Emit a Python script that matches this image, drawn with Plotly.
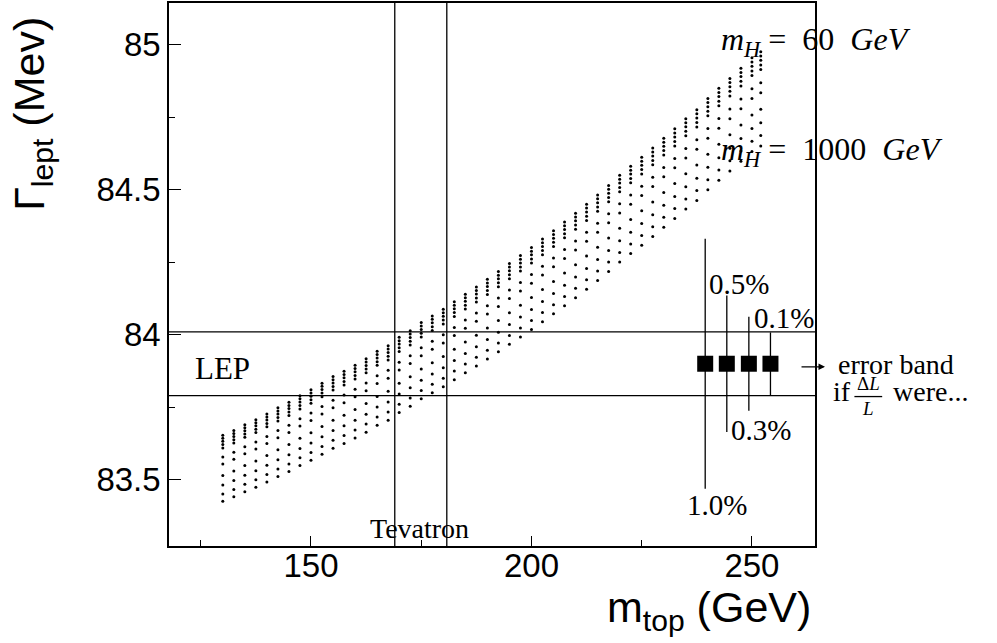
import plotly.graph_objects as go

# ---------------- data ----------------
m_top = [130, 132.5, 135, 137.5, 140, 142.5, 145, 147.5, 150, 152.5,
         155, 157.5, 160, 162.5, 165, 167.5, 170, 172.5, 175, 177.5,
         180, 182.5, 185, 187.5, 190, 192.5, 195, 197.5, 200, 202.5,
         205, 207.5, 210, 212.5, 215, 217.5, 220, 222.5, 225, 227.5,
         230, 232.5, 235, 237.5, 240, 242.5, 245, 247.5, 250, 252.0]

# upper edge of each column (m_H = 60 GeV end), MeV
gamma_top = [83.653, 83.670, 83.690, 83.707, 83.727, 83.748, 83.767, 83.790, 83.810, 83.833,
             83.856, 83.874, 83.895, 83.917, 83.943, 83.962, 83.991, 84.014, 84.042, 84.065,
             84.088, 84.114, 84.140, 84.165, 84.191, 84.218, 84.246, 84.273, 84.301, 84.330,
             84.359, 84.389, 84.419, 84.450, 84.482, 84.515, 84.550, 84.581, 84.612, 84.644,
             84.678, 84.710, 84.745, 84.776, 84.815, 84.850, 84.884, 84.919, 84.955, 84.976]

# lower edge of each column (m_H = 1000 GeV end), MeV
gamma_bottom = [83.426, 83.441, 83.459, 83.474, 83.492, 83.511, 83.528, 83.549, 83.567, 83.588,
                83.609, 83.625, 83.644, 83.664, 83.688, 83.705, 83.732, 83.753, 83.779, 83.800,
                83.821, 83.845, 83.869, 83.892, 83.916, 83.941, 83.967, 83.992, 84.018, 84.045,
                84.072, 84.100, 84.128, 84.157, 84.187, 84.218, 84.251, 84.280, 84.309, 84.339,
                84.371, 84.401, 84.434, 84.463, 84.500, 84.533, 84.565, 84.598, 84.632, 84.651]

# relative position of the Higgs-mass rows inside a column (0 = top, 1 = bottom)
row_frac = [0.0, 0.045, 0.09, 0.14, 0.19, 0.33, 0.435, 0.61, 0.755, 0.89, 1.0]

lep_center = 83.90
lep_err = 0.11
tev_low, tev_high = 169.0, 180.8

band_x = [239.4, 244.3, 249.3, 254.2]
band_y = [83.90, 83.90, 83.90, 83.90]
band_err = [0.431, 0.235, 0.162, 0.108]
band_labels = ["1.0%", "0.5%", "0.3%", "0.1%"]

x_tickvals = [150, 200, 250]
x_ticktext = ["150", "200", "250"]
x_minor = [125, 175, 225]
y_tickvals = [83.5, 84, 84.5, 85]
y_ticktext = ["83.5", "84", "84.5", "85"]
y_minor = [83.75, 84.25, 84.75]

# ---------------- build the dot grid ----------------
dot_x, dot_y = [], []
for m, gt, gb in zip(m_top, gamma_top, gamma_bottom):
    for f in row_frac:
        dot_x.append(m)
        dot_y.append(gt - f * (gt - gb))

XR = [117.8, 264.3]
YR = [83.2715, 85.144]

fig = go.Figure()

fig.add_trace(go.Scatter(x=dot_x, y=dot_y, mode="markers",
                         marker=dict(color="black", size=3, line=dict(width=0)),
                         hoverinfo="skip", showlegend=False))

# LEP band lines
for yv in (lep_center + lep_err, lep_center - lep_err):
    fig.add_trace(go.Scatter(x=XR, y=[yv, yv], mode="lines",
                             line=dict(color="black", width=1.3),
                             hoverinfo="skip", showlegend=False))
# Tevatron lines
for xv in (tev_low, tev_high):
    fig.add_trace(go.Scatter(x=[xv, xv], y=YR, mode="lines",
                             line=dict(color="black", width=1.3),
                             hoverinfo="skip", showlegend=False))

# error band points
fig.add_trace(go.Scatter(x=band_x, y=band_y, mode="markers",
                         marker=dict(symbol="square", size=16, color="black"),
                         error_y=dict(type="data", array=band_err, visible=True,
                                      color="black", thickness=1.3, width=0),
                         hoverinfo="skip", showlegend=False))

serif = "Liberation Serif"
sans = "Liberation Sans"


def ann(x, y, text, size=29, xanchor="left", family=serif, ref="data", **kw):
    xr, yr = ("x", "y") if ref == "data" else ("paper", "paper")
    fig.add_annotation(x=x, y=y, xref=xr, yref=yr, text=text, showarrow=False,
                       xanchor=xanchor, yanchor="middle",
                       font=dict(family=family, size=size, color="black"), **kw)


ann(123.3, 83.883, "LEP", size=31)
ann(162.9, 83.333, "Tevatron", size=28)
ann(242.5, 85.01,
    "<i>m</i><sub><i>H</i></sub>&nbsp;=&nbsp;&nbsp;60&nbsp;&nbsp;<i>GeV</i>", size=32)
ann(242.5, 84.632,
    "<i>m</i><sub><i>H</i></sub>&nbsp;=&nbsp;&nbsp;1000&nbsp;&nbsp;<i>GeV</i>", size=32)

label_pos = {"0.5%": (239.8, 84.175), "0.1%": (250.0, 84.058),
             "0.3%": (244.8, 83.670), "1.0%": (234.8, 83.412)}
for lab in band_labels:
    lx, ly = label_pos[lab]
    ann(lx, ly, lab, size=29)

# right-hand note (outside the axes -> paper coordinates)
fig.add_annotation(x=1.0155, y=0.330, xref="paper", yref="paper", text="",
                   showarrow=True, ax=-25, ay=0, arrowhead=2, arrowsize=1,
                   arrowwidth=1.3, arrowcolor="black", standoff=0)
ann(1.033, 0.334, "error band", size=28, ref="paper")
ann(1.025, 0.284, "if", size=28, ref="paper")
ann(1.0825, 0.2755, "Δ<i>L</i><br><i>L</i>", size=19, xanchor="center",
    ref="paper", align="center")
fig.add_shape(type="line", xref="paper", yref="paper", x0=1.0610, x1=1.1040,
              y0=0.2752, y1=0.2752, line=dict(color="black", width=1.3))
ann(1.1170, 0.284, "were...", size=28, ref="paper")

# axis titles
fig.add_annotation(xref="paper", yref="paper", x=0.997, y=-0.118,
                   text="m<sub>top</sub> (GeV)", showarrow=False,
                   xanchor="right", yanchor="middle",
                   font=dict(family=sans, size=43, color="black"))
fig.add_annotation(xref="paper", yref="paper", x=-0.212, y=0.796,
                   text="Γ<sub>lept</sub> (Mev)", showarrow=False, textangle=-90,
                   xanchor="center", yanchor="middle",
                   font=dict(family=sans, size=43, color="black"))

fig.update_xaxes(range=XR, showgrid=False, zeroline=False,
                 showline=True, linecolor="black", linewidth=1.5, mirror=True,
                 tickmode="array", tickvals=x_tickvals, ticktext=x_ticktext,
                 ticks="inside", ticklen=10, tickwidth=1, tickcolor="black",
                 ticklabelstandoff=-10,
                 minor=dict(tickmode="array", tickvals=x_minor, ticks="inside",
                            ticklen=6, tickwidth=1, tickcolor="black"),
                 tickfont=dict(family=sans, size=33, color="black"))
fig.update_yaxes(range=YR, showgrid=False, zeroline=False,
                 showline=True, linecolor="black", linewidth=1.5, mirror=True,
                 tickmode="array", tickvals=y_tickvals, ticktext=y_ticktext,
                 ticks="inside", ticklen=12, tickwidth=1, tickcolor="black",
                 minor=dict(tickmode="array", tickvals=y_minor, ticks="inside",
                            ticklen=6, tickwidth=1, tickcolor="black"),
                 tickfont=dict(family=sans, size=33, color="black"))

fig.update_layout(width=997, height=643,
                  margin=dict(l=169, r=182, t=1, b=97),
                  plot_bgcolor="white", paper_bgcolor="white",
                  showlegend=False)

fig.write_html("out.html")
